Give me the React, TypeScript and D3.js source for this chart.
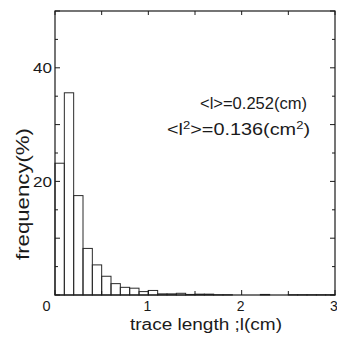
import * as d3 from 'd3'

const W = 337
const H = 339
const FRAME = { left: 55, right: 335, top: 11, bottom: 295 }

// frequency (%) per 0.1 cm bin, 0 .. 3 cm
const BIN_WIDTH = 0.1
const FREQ = [
  23.2, 35.6, 17.5, 8.2, 5.3, 3.3, 2.0, 1.35, 1.2, 0.6,
  0.8, 0.2, 0.2, 0.3, 0.1, 0.15, 0.15, 0.05, 0.05, 0,
  0, 0, 0.1, 0, 0, 0.05, 0.05, 0.05, 0.05, 0.05,
]

const X_MAJOR = [0, 1, 2, 3]
const X_MINOR = [0.5, 1.5, 2.5]
const Y_MAJOR = [0, 10, 20, 30, 40, 50]
const Y_MINOR = [5, 15, 25, 35, 45]
const X_LABELS = ['1', '2', '3']
const Y_LABELS = ['20', '40']

const FONT = '"Liberation Sans", Arial, Helvetica, sans-serif'
const INK = '#1a1a1a'

export default function App() {
  const x = d3.scaleLinear().domain([0, 3]).range([FRAME.left, FRAME.right])
  const y = d3.scaleLinear().domain([0, 50]).range([FRAME.bottom, FRAME.top])

  const bins = FREQ.map((v, i) => ({ x0: i * BIN_WIDTH, x1: (i + 1) * BIN_WIDTH, v }))

  const ticks: { x1: number; y1: number; x2: number; y2: number }[] = []
  X_MAJOR.forEach(t => {
    ticks.push({ x1: x(t), y1: FRAME.bottom, x2: x(t), y2: FRAME.bottom - 5 })
    ticks.push({ x1: x(t), y1: FRAME.top, x2: x(t), y2: FRAME.top + 4 })
  })
  X_MINOR.forEach(t => {
    ticks.push({ x1: x(t), y1: FRAME.bottom, x2: x(t), y2: FRAME.bottom - 4 })
    ticks.push({ x1: x(t), y1: FRAME.top, x2: x(t), y2: FRAME.top + 4 })
  })
  Y_MAJOR.forEach(t => {
    ticks.push({ x1: FRAME.left, y1: y(t), x2: FRAME.left + 5, y2: y(t) })
    ticks.push({ x1: FRAME.right, y1: y(t), x2: FRAME.right - 5, y2: y(t) })
  })
  Y_MINOR.forEach(t => {
    ticks.push({ x1: FRAME.left, y1: y(t), x2: FRAME.left + 3, y2: y(t) })
    ticks.push({ x1: FRAME.right, y1: y(t), x2: FRAME.right - 3, y2: y(t) })
  })

  return (
    <svg
      width={W}
      height={H}
      style={{ position: 'absolute', left: 0, top: 0, background: '#fff' }}
      fontFamily={FONT}
    >
      {/* histogram bars */}
      {bins.filter(b => b.v > 0).map((b, i) => (
        <rect
          key={i}
          x={x(b.x0)}
          y={y(b.v)}
          width={x(b.x1) - x(b.x0)}
          height={y(0) - y(b.v)}
          fill="none"
          stroke="#2a2a2a"
          strokeWidth={1}
        />
      ))}

      {/* frame */}
      <rect
        x={FRAME.left}
        y={FRAME.top}
        width={FRAME.right - FRAME.left}
        height={FRAME.bottom - FRAME.top}
        fill="none"
        stroke={INK}
        strokeWidth={1.2}
      />
      {ticks.map((t, i) => (
        <line key={i} {...t} stroke={INK} strokeWidth={1} />
      ))}

      {/* tick labels */}
      {Y_LABELS.map(l => (
        <text key={l} x={52} y={y(+l) + 5.5} textAnchor="end" fontSize={15} fill={INK}
          textLength={19} lengthAdjust="spacingAndGlyphs">
          {l}
        </text>
      ))}
      <text x={46.5} y={310.5} textAnchor="middle" fontSize={14.5} fill={INK}>0</text>
      {X_LABELS.map(l => (
        <text key={l} x={x(+l) - 1} y={310.5} textAnchor="middle" fontSize={14} fill={INK}>
          {l}
        </text>
      ))}

      {/* axis titles */}
      <text x={130} y={329.5} fontSize={16} fill={INK} textLength={152} lengthAdjust="spacingAndGlyphs">
        trace length ;l(cm)
      </text>
      <text
        transform={`translate(29,194) rotate(-90)`}
        textAnchor="middle"
        fontSize={18.5}
        fill={INK}
        textLength={132}
        lengthAdjust="spacingAndGlyphs"
      >
        frequency(%)
      </text>

      {/* statistics */}
      <text x={200} y={109} fontSize={16} fill={INK} textLength={107} lengthAdjust="spacingAndGlyphs">
        {'<l>=0.252(cm)'}
      </text>
      <text x={167} y={135} fontSize={16} fill={INK} textLength={143} lengthAdjust="spacingAndGlyphs">
        {'<l'}
        <tspan fontSize={10.5} dy={-6.5}>2</tspan>
        <tspan dy={6.5}>{'>=0.136(cm'}</tspan>
        <tspan fontSize={10.5} dy={-6.5}>2</tspan>
        <tspan dy={6.5}>)</tspan>
      </text>
    </svg>
  )
}
